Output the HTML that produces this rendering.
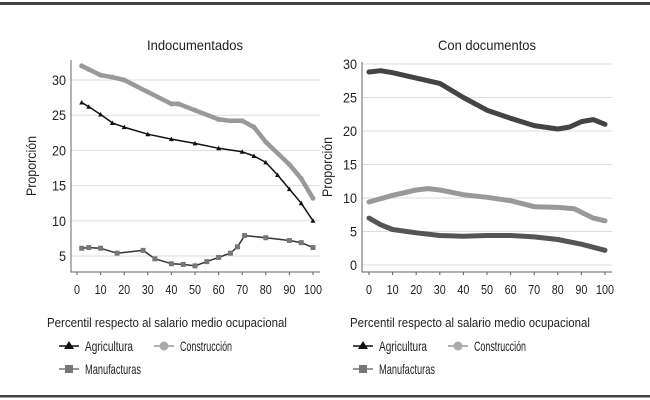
<!DOCTYPE html>
<html><head><meta charset="utf-8"><style>
body{margin:0;background:#fff;}
svg{display:block;font-family:"Liberation Sans",sans-serif;}
</style></head><body>
<svg id="s" width="650" height="400" viewBox="0 0 650 400">
<rect x="0" y="2" width="650" height="3" fill="#444"/>
<rect x="0" y="395" width="650" height="2.5" fill="#444"/>
</svg>
<script>
const xTicks=[0,10,20,30,40,50,60,70,80,90,100];
const leftYTicks=[5,10,15,20,25,30];
const rightYTicks=[0,5,10,15,20,25,30];
const leftConsX=[2,5,10,15,20,30,40,43,50,60,65,70,75,80,90,95,100];
const leftConsY=[32,31.5,30.7,30.4,30,28.3,26.6,26.6,25.7,24.4,24.2,24.2,23.3,21.2,18,16,13.2];
const leftAgriX=[2,5,10,15,20,30,40,50,60,70,75,80,85,90,95,100];
const leftAgriY=[26.8,26.2,25.1,23.9,23.3,22.3,21.6,21,20.3,19.8,19.2,18.3,16.5,14.5,12.5,10];
const leftManuX=[2,5,10,17,28,33,40,45,50,55,60,65,68,71,80,90,95,100];
const leftManuY=[6.1,6.2,6.1,5.4,5.8,4.6,3.9,3.8,3.6,4.2,4.8,5.4,6.3,7.9,7.6,7.2,6.9,6.2];
const rightAgriX=[0,5,10,20,30,40,50,60,70,80,85,90,95,100];
const rightAgriY=[28.8,29,28.7,27.9,27.1,25,23.1,21.9,20.8,20.3,20.6,21.4,21.7,21];
const rightConsX=[0,10,20,25,30,40,50,60,70,80,87,95,100];
const rightConsY=[9.4,10.4,11.2,11.4,11.2,10.5,10.1,9.6,8.7,8.6,8.4,7,6.6];
const rightManuX=[0,5,10,20,30,40,50,60,70,80,90,100];
const rightManuY=[7,6,5.3,4.8,4.4,4.3,4.4,4.4,4.2,3.8,3.1,2.2];

const NS="http://www.w3.org/2000/svg";
const svg=document.getElementById('s');
function mk(tag,attrs,parent){const e=document.createElementNS(NS,tag);for(const k in attrs)e.setAttribute(k,attrs[k]);(parent||svg).appendChild(e);return e;}

function panel(cfg){
  const g=mk('g',{});
  
  
  const sx=v=>cfg.x0+(v-0)*(cfg.x1-cfg.x0)/100;
  const sy=v=>cfg.yA+(v-cfg.vA)*(cfg.yB-cfg.yA)/(cfg.vB-cfg.vA);
  cfg.yTicks.forEach(t=>{
    const l=mk('line',{x1:cfg.axL,x2:cfg.gridR,y1:sy(t),y2:sy(t),stroke:'#ddd','stroke-width':1},g);
    
    
    const tx=mk('text',{x:cfg.axL-5,y:sy(t)+5,'text-anchor':'end','font-size':14,fill:'#222',textLength:String(t).length*7,lengthAdjust:'spacingAndGlyphs'},g);
    tx.textContent=t;
    
    
  });
  xTicks.forEach(t=>{
    mk('line',{x1:sx(t),x2:sx(t),y1:cfg.axB,y2:cfg.axB+3,stroke:'#555'},g);
    const tx=mk('text',{x:sx(t),y:cfg.axB+22,'text-anchor':'middle','font-size':13,fill:'#222',textLength:String(t).length*6,lengthAdjust:'spacingAndGlyphs'},g);
    tx.textContent=t;
    
    
  });
  const ax=mk('path',{d:`M${cfg.axL} ${cfg.axT}V${cfg.axB}H${cfg.gridR}`,fill:'none',stroke:'#666','stroke-width':1},g);
  
  
  const ti=mk('text',{x:(cfg.x0+cfg.x1)/2,y:cfg.titleY,'text-anchor':'middle','font-size':14,fill:'#222',textLength:cfg.titleLen,lengthAdjust:'spacingAndGlyphs'},g);
  ti.textContent=cfg.title;
  
  
  const yl=mk('text',{transform:`translate(${cfg.ylX},${(cfg.axT+cfg.axB)/2}) rotate(-90)`,'text-anchor':'middle','font-size':14,fill:'#222',textLength:60,lengthAdjust:'spacingAndGlyphs'},g);
  yl.textContent='Proporción';
  
  
  const xl=mk('text',{x:cfg.xlX,y:327,'font-size':13,fill:'#222',textLength:240,lengthAdjust:'spacingAndGlyphs'},g);
  xl.textContent='Percentil respecto al salario medio ocupacional';
  
  
  cfg.series.forEach(s=>{
    const d=s.xs.map((x,i)=>(i?'L':'M')+sx(x).toFixed(1)+' '+sy(s.ys[i]).toFixed(1)).join('');
    const p=mk('path',{d:d,fill:'none',stroke:s.color,'stroke-width':s.w,'stroke-linejoin':'round','stroke-linecap':'round'},g);
    
    
    if(s.marker){
      s.xs.forEach((x,i)=>{
        const cx=sx(x),cy=sy(s.ys[i]);let m;
        if(s.marker==='tri')m=mk('path',{d:`M${cx} ${cy-2.5}L${cx+2.5} ${cy+2}L${cx-2.5} ${cy+2}Z`,fill:s.color},g);
        else if(s.marker==='sq')m=mk('rect',{x:cx-2.5,y:cy-2.5,width:5,height:5,fill:'#777'},g);
        else m=mk('circle',{cx:cx,cy:cy,r:2.5,fill:s.color},g);
        
        
      });
    }
  });
  const L=[['Agricultura','tri','#111',cfg.legX,346,48],['Construcción','circ','#999',cfg.legX+95,346,52],['Manufacturas','sq','#777',cfg.legX,369,56]];
  L.forEach(([lab,mkr,col,lx,ly,tl])=>{
    const lg=mk('g',{},g);
    
    
    mk('line',{x1:lx,x2:lx+20,y1:ly,y2:ly,stroke:col,'stroke-width':1.5},lg);
    const cx=lx+10;
    if(mkr==='tri')mk('path',{d:`M${cx} ${ly-5}L${cx+5} ${ly+3}L${cx-5} ${ly+3}Z`,fill:col},lg);
    else if(mkr==='sq')mk('rect',{x:cx-4,y:ly-4,width:8,height:8,fill:col},lg);
    else mk('circle',{cx:cx,cy:ly,r:4.5,fill:'#aaa'},lg);
    const t=mk('text',{x:lx+26,y:ly+5,'font-size':14,fill:'#222',textLength:tl,lengthAdjust:'spacingAndGlyphs'},lg);
    t.textContent=lab;
  });
}
panel({name:'panel-indocumentados',title:'Indocumentados',titleLen:96,x0:77,x1:313,vA:30,yA:80,vB:5,yB:256,yTicks:leftYTicks,axL:71,axT:60,axB:272,gridR:320,titleY:50,ylX:36,xlX:47,legX:59,
 series:[{name:'line-construccion',xs:leftConsX,ys:leftConsY,color:'#999',w:4.5,marker:'circ'},
 {name:'line-agricultura',xs:leftAgriX,ys:leftAgriY,color:'#111',w:1.5,marker:'tri'},
 {name:'line-manufacturas',xs:leftManuX,ys:leftManuY,color:'#333',w:1.5,marker:'sq'}]});
panel({name:'panel-con-documentos',title:'Con documentos',titleLen:98,x0:369,x1:605,vA:30,yA:64,vB:0,yB:265,yTicks:rightYTicks,axL:362,axT:62,axB:272,gridR:612,titleY:50,ylX:332,xlX:350,legX:353,
 series:[{name:'line-agricultura',xs:rightAgriX,ys:rightAgriY,color:'#444',w:5},
 {name:'line-construccion',xs:rightConsX,ys:rightConsY,color:'#999',w:5},
 {name:'line-manufacturas',xs:rightManuX,ys:rightManuY,color:'#555',w:5}]});
</script>
</body></html>
